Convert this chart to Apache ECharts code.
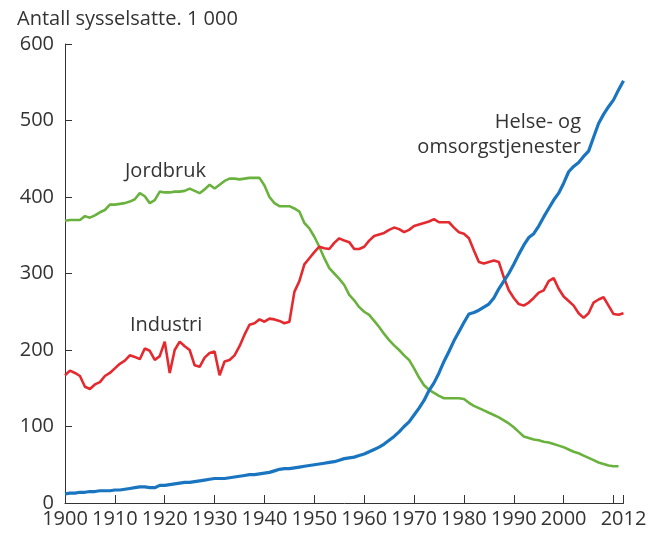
<!DOCTYPE html>
<html>
<head>
<meta charset="utf-8">
<script src="https://cdn.jsdelivr.net/npm/echarts@6/dist/echarts.min.js"></script>
<style>html,body{margin:0;padding:0;background:#fff}#c{width:657px;height:534px}</style>
</head>
<body>
<div id="c"></div>
<script>
const startYear = 1900;
const industri = [167,173,170,166,152,149,155,158,166,170,176,182,186,193,191,188,202,199,187,192,211,170,200,211,205,200,180,178,190,196,198,167,185,187,193,205,220,233,235,240,237,241,240,238,235,237,276,290,312,320,328,335,333,332,340,346,343,341,332,332,335,343,349,351,353,357,360,358,354,357,362,364,366,368,371,367,367,367,360,354,352,346,330,315,313,315,317,315,295,278,268,260,258,262,268,275,278,290,294,280,270,264,258,248,242,248,262,266,269,258,247,246,248];
const jordbruk = [369,370,370,370,375,373,376,380,383,390,390,391,392,394,397,405,401,392,396,407,406,406,407,407,408,411,408,405,410,416,411,416,421,424,424,423,424,425,425,425,415,400,392,388,388,388,385,381,366,359,348,335,320,307,300,293,285,272,265,256,250,246,238,230,221,213,206,200,193,187,176,164,154,148,144,140,137,137,137,137,136,131,127,124,121,118,115,112,108,104,99,93,87,85,83,82,80,79,77,75,73,70,67,65,62,59,56,53,51,49,48,48];
const helse = [12,13,13,14,14,15,15,16,16,16,17,17,18,19,20,21,21,20,20,23,23,24,25,26,27,27,28,29,30,31,32,32,32,33,34,35,36,37,37,38,39,40,42,44,45,45,46,47,48,49,50,51,52,53,54,56,58,59,60,62,64,67,70,73,77,82,87,93,100,106,115,124,134,147,157,170,185,198,212,224,236,247,249,252,256,260,268,280,290,300,312,325,337,347,352,362,374,385,396,405,418,433,440,445,453,460,478,496,508,518,527,540,552];
const tickYears = [1900,1910,1920,1930,1940,1950,1960,1970,1980,1990,2000,2010,2012];
const labelYears = [1900,1910,1920,1930,1940,1950,1960,1970,1980,1990,2000,2012];

function pairs(arr){ return arr.map((v,i)=>[startYear+i, v]); }

const FONT = 'Open Sans';
const TXT = '#333333';
const F = '20px "Open Sans"';
const chart = echarts.init(document.getElementById('c'), null, {renderer:'canvas'});
chart.setOption({
  animation:false,
  backgroundColor:'#fff',
  textStyle:{fontFamily:FONT},
  grid:{left:65, right:33.5, top:44, bottom:31, containLabel:false},
  xAxis:{
    type:'value', min:1900, max:2012,
    axisLine:{show:true, lineStyle:{color:'#333', width:1}},
    axisTick:{show:true, inside:true, length:8, lineStyle:{color:'#333'}, customValues:tickYears},
    axisLabel:{show:true, customValues:labelYears, color:TXT, fontSize:20, fontFamily:FONT, margin:6, formatter:v=>String(v)},
    splitLine:{show:false}
  },
  yAxis:{
    type:'value', min:0, max:600, interval:100,
    axisLine:{show:true, lineStyle:{color:'#333', width:1}},
    axisTick:{show:true, inside:true, length:7, lineStyle:{color:'#333'}},
    axisLabel:{color:TXT, fontSize:20, fontFamily:FONT, margin:11},
    splitLine:{show:false}
  },
  graphic:[
    {type:'text', left:17, top:9, style:{text:'Antall sysselsatte. 1 000', fill:TXT, font:F}},
    {type:'text', left:125, top:161, style:{text:'Jordbruk', fill:TXT, font:F}},
    {type:'text', left:130, top:315, style:{text:'Industri', fill:TXT, font:F}},
    {type:'text', x:581, y:112, style:{text:'Helse- og', fill:TXT, font:F, align:'right'}},
    {type:'text', x:581, y:137, style:{text:'omsorgstjenester', fill:TXT, font:F, align:'right'}}
  ],
  series:[
    {name:'Jordbruk', type:'line', data:pairs(jordbruk), showSymbol:false, symbol:'none', lineStyle:{color:'#6ab23e', width:2.6}, z:2},
    {name:'Industri', type:'line', data:pairs(industri), showSymbol:false, symbol:'none', lineStyle:{color:'#e52a2f', width:2.6}, z:3},
    {name:'Helse- og omsorgstjenester', type:'line', data:pairs(helse), showSymbol:false, symbol:'none', lineStyle:{color:'#1a75c0', width:3.2}, z:4}
  ]
});
</script>
</body>
</html>
